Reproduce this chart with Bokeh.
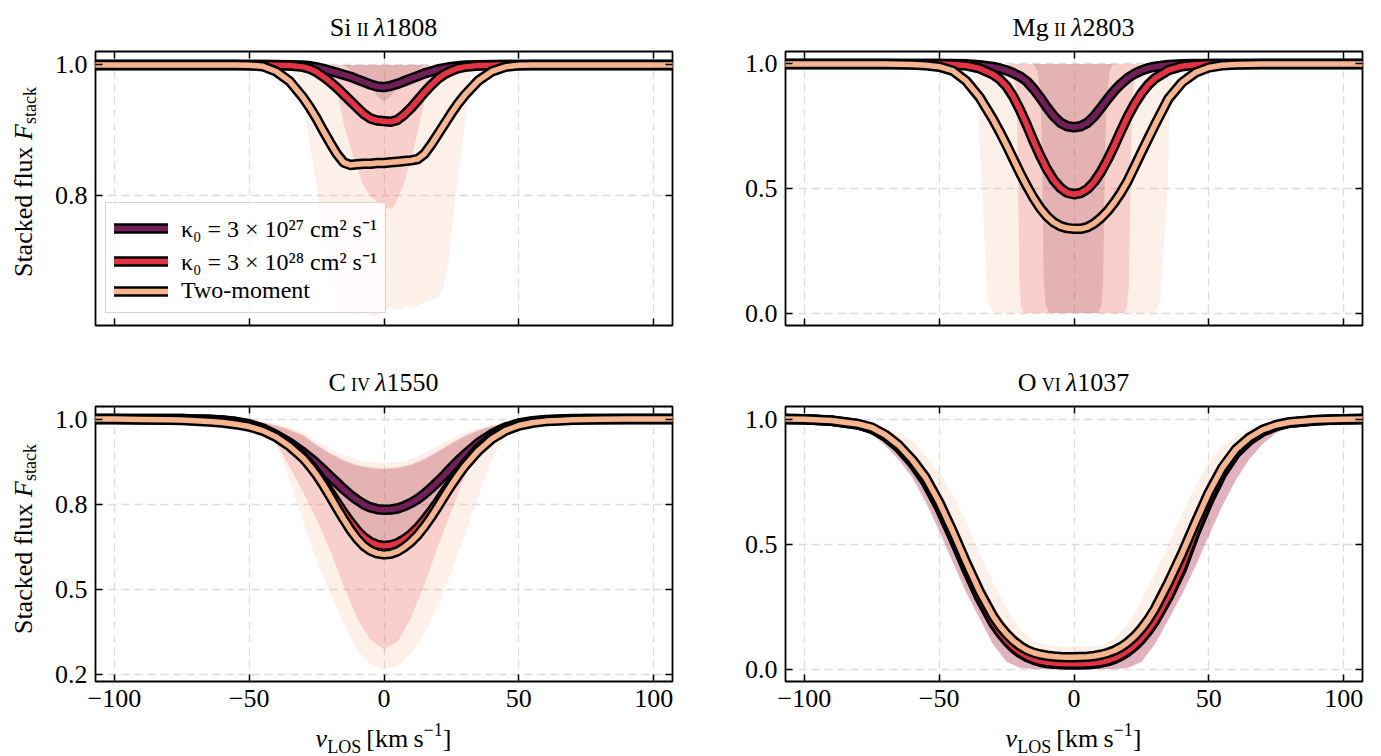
from bokeh.plotting import figure
from bokeh.models import Range1d, FixedTicker, LinearAxis, Legend, LegendItem, Div
from bokeh.layouts import column, row
from bokeh.embed import file_html
from bokeh.resources import INLINE

# ---------------- data ----------------
V = [-110, -100, -90, -80, -75, -70, -65, -60, -55, -50, -45, -40, -35,
     -30, -27.5, -25, -22.5, -20, -17.5, -15, -12.5, -10, -7.5, -5, -2.5,
     0, 2.5, 5, 7.5, 10, 12.5, 15, 17.5, 20, 22.5, 25, 27.5, 30,
     35, 40, 45, 50, 55, 60, 65, 70, 75, 80, 90, 100, 110]

SI_K27 = [1.0, 1.0, 1.0, 1.0, 1.0, 1.0, 1.0, 1.0, 1.0, 1.0, 1.0, 1.0, 0.9995,
          0.999, 0.998, 0.996, 0.994, 0.991, 0.988, 0.985, 0.982, 0.978, 0.974, 0.970, 0.967,
          0.966, 0.968, 0.971, 0.975, 0.979, 0.983, 0.987, 0.990, 0.993, 0.995, 0.997, 0.998, 0.999,
          0.9995, 1.0, 1.0, 1.0, 1.0, 1.0, 1.0, 1.0, 1.0, 1.0, 1.0, 1.0, 1.0]
SI_K28 = [1.0, 1.0, 1.0, 1.0, 1.0, 1.0, 1.0, 1.0, 1.0, 1.0, 1.0, 0.9995, 0.999,
          0.997, 0.994, 0.989, 0.982, 0.974, 0.965, 0.955, 0.945, 0.935, 0.925, 0.918, 0.915,
          0.914, 0.913, 0.916, 0.924, 0.934, 0.946, 0.958, 0.969, 0.979, 0.986, 0.991, 0.995, 0.997,
          0.999, 0.9995, 1.0, 1.0, 1.0, 1.0, 1.0, 1.0, 1.0, 1.0, 1.0, 1.0, 1.0]
SI_TM = [1.0, 1.0, 1.0, 1.0, 1.0, 1.0, 1.0, 1.0, 1.0, 0.9995, 0.998, 0.990, 0.975,
         0.950, 0.935, 0.918, 0.899, 0.881, 0.864, 0.851, 0.847, 0.848, 0.849, 0.849, 0.850,
         0.850, 0.851, 0.852, 0.853, 0.854, 0.856, 0.864, 0.878, 0.894, 0.910, 0.926, 0.941, 0.954,
         0.976, 0.990, 0.997, 0.9995, 1.0, 1.0, 1.0, 1.0, 1.0, 1.0, 1.0, 1.0, 1.0]

MG_K27 = [1.0, 1.0, 1.0, 1.0, 1.0, 1.0, 1.0, 1.0, 1.0, 1.0, 1.0, 0.999, 0.995,
          0.988, 0.982, 0.974, 0.963, 0.950, 0.930, 0.900, 0.864, 0.825, 0.790, 0.764, 0.750,
          0.746, 0.750, 0.764, 0.790, 0.824, 0.860, 0.893, 0.921, 0.944, 0.961, 0.974, 0.983, 0.989,
          0.996, 0.999, 1.0, 1.0, 1.0, 1.0, 1.0, 1.0, 1.0, 1.0, 1.0, 1.0, 1.0]
MG_K28 = [1.0, 1.0, 1.0, 1.0, 1.0, 1.0, 1.0, 1.0, 1.0, 0.9995, 0.998, 0.994, 0.982,
          0.958, 0.938, 0.910, 0.868, 0.815, 0.755, 0.690, 0.630, 0.577, 0.533, 0.502, 0.483,
          0.477, 0.482, 0.498, 0.527, 0.567, 0.617, 0.673, 0.733, 0.790, 0.840, 0.882, 0.916, 0.942,
          0.975, 0.991, 0.997, 0.9995, 1.0, 1.0, 1.0, 1.0, 1.0, 1.0, 1.0, 1.0, 1.0]
MG_TM = [1.0, 1.0, 1.0, 1.0, 1.0, 1.0, 0.999, 0.998, 0.995, 0.989, 0.973, 0.932, 0.866,
         0.777, 0.727, 0.674, 0.618, 0.562, 0.510, 0.462, 0.421, 0.388, 0.364, 0.349, 0.341,
         0.338, 0.338, 0.345, 0.360, 0.382, 0.410, 0.445, 0.485, 0.532, 0.588, 0.645, 0.700, 0.755,
         0.860, 0.925, 0.965, 0.986, 0.995, 0.998, 0.999, 1.0, 1.0, 1.0, 1.0, 1.0, 1.0]

CIV_K27 = [1.0, 1.0, 1.0, 1.0, 1.0, 0.999, 0.998, 0.996, 0.992, 0.985, 0.972, 0.953, 0.930,
           0.902, 0.886, 0.869, 0.851, 0.832, 0.813, 0.794, 0.777, 0.762, 0.749, 0.740, 0.735,
           0.733, 0.734, 0.737, 0.744, 0.753, 0.765, 0.780, 0.797, 0.816, 0.836, 0.857, 0.877, 0.896,
           0.930, 0.956, 0.975, 0.987, 0.994, 0.997, 0.999, 1.0, 1.0, 1.0, 1.0, 1.0, 1.0]
CIV_K28 = [1.0, 1.0, 1.0, 1.0, 1.0, 0.999, 0.998, 0.996, 0.991, 0.983, 0.970, 0.951, 0.925,
           0.890, 0.868, 0.843, 0.815, 0.785, 0.755, 0.725, 0.697, 0.672, 0.652, 0.638, 0.630,
           0.627, 0.629, 0.635, 0.646, 0.661, 0.680, 0.703, 0.729, 0.757, 0.786, 0.815, 0.843, 0.869,
           0.914, 0.948, 0.970, 0.984, 0.992, 0.996, 0.998, 0.999, 1.0, 1.0, 1.0, 1.0, 1.0]
CIV_TM = [1.0, 1.0, 0.999, 0.998, 0.997, 0.995, 0.993, 0.990, 0.985, 0.978, 0.966, 0.947, 0.920,
          0.885, 0.862, 0.836, 0.806, 0.773, 0.739, 0.706, 0.675, 0.648, 0.627, 0.613, 0.605,
          0.602, 0.604, 0.611, 0.623, 0.639, 0.659, 0.684, 0.712, 0.743, 0.775, 0.806, 0.835, 0.862,
          0.907, 0.942, 0.966, 0.981, 0.989, 0.994, 0.996, 0.998, 0.999, 0.9995, 1.0, 1.0, 1.0]

OVI_K27 = [1.0, 0.999, 0.993, 0.978, 0.961, 0.930, 0.885, 0.824, 0.747, 0.646, 0.527, 0.401, 0.283,
           0.184, 0.145, 0.112, 0.085, 0.064, 0.048, 0.037, 0.029, 0.024, 0.021, 0.019, 0.018,
           0.018, 0.018, 0.019, 0.021, 0.025, 0.031, 0.040, 0.053, 0.070, 0.092, 0.119, 0.152, 0.191,
           0.287, 0.399, 0.545, 0.672, 0.782, 0.862, 0.914, 0.950, 0.972, 0.985, 0.995, 0.999, 1.0]
OVI_K28 = [1.0, 0.999, 0.993, 0.978, 0.962, 0.932, 0.888, 0.828, 0.752, 0.652, 0.533, 0.407, 0.288,
           0.188, 0.148, 0.115, 0.088, 0.067, 0.051, 0.040, 0.032, 0.027, 0.024, 0.022, 0.021,
           0.021, 0.021, 0.022, 0.024, 0.028, 0.034, 0.043, 0.056, 0.073, 0.095, 0.122, 0.155, 0.194,
           0.290, 0.410, 0.555, 0.682, 0.790, 0.867, 0.918, 0.952, 0.973, 0.985, 0.995, 0.999, 1.0]
OVI_TM = [1.0, 0.999, 0.994, 0.980, 0.966, 0.937, 0.895, 0.837, 0.765, 0.667, 0.551, 0.427, 0.310,
          0.211, 0.172, 0.140, 0.113, 0.092, 0.076, 0.065, 0.058, 0.053, 0.050, 0.048, 0.047,
          0.047, 0.048, 0.049, 0.052, 0.057, 0.064, 0.074, 0.088, 0.107, 0.131, 0.161, 0.197, 0.240,
          0.345, 0.460, 0.585, 0.705, 0.805, 0.878, 0.925, 0.957, 0.976, 0.987, 0.996, 0.999, 1.0]

# percentile bands (lower edges; upper edge is the continuum for Si II / Mg II)
BAND_TOP = 1.0
SI_K27_BV = [-15, -12, -9, -6.5, -4, -2, 0, 2, 4, 6.5, 9, 12, 15]
SI_K27_LO = [1.0, 0.99, 0.98, 0.969, 0.96, 0.95, 0.944, 0.95, 0.96, 0.969, 0.98, 0.99, 1.0]
SI_K28_BV = [-19, -17.5, -16, -14.5, -12.5, -10.8, -9, -7.7, -5, -2.5, 0, 2, 3.5, 5, 7.2,
             9.7, 11.5, 12.8, 14.5, 15.9, 17.5]
SI_K28_LO = [1.0, 0.96, 0.93, 0.903, 0.875, 0.852, 0.832, 0.816, 0.80, 0.79, 0.782, 0.78, 0.782,
             0.795, 0.816, 0.852, 0.88, 0.903, 0.935, 0.964, 1.0]
SI_TM_BV = [-35, -32, -29.5, -27.5, -25.5, -23.8, -22, -20.7, -19, -17.5, -16, -13, -10, -7, -4,
            -1, 2, 5, 8, 11, 14, 17, 20, 22, 24, 25.8, 27.5, 29, 30.5, 32, 33.5]
SI_TM_LO = [1.0, 0.98, 0.93, 0.878, 0.83, 0.776, 0.735, 0.70, 0.665, 0.64, 0.625, 0.62, 0.618,
            0.622, 0.615, 0.62, 0.63, 0.625, 0.632, 0.628, 0.635, 0.64, 0.645, 0.66, 0.70, 0.776,
            0.83, 0.878, 0.93, 0.98, 1.0]

MG_K27_BV = [-15, -13.5, -12.5, -12, -11.6, -11.2, -10.5, -9, 9, 10.2, 10.8, 11.2, 11.6, 12.3, 13.2, 14.5]
MG_K27_LO = [1.0, 0.97, 0.88, 0.7, 0.4, 0.12, 0.03, 0.0, 0.0, 0.03, 0.12, 0.4, 0.7, 0.88, 0.97, 1.0]
MG_K28_BV = [-24, -22.5, -21.5, -21, -20.6, -20.2, -19.5, -18.5, 18.5, 19.5, 20.3, 20.8, 21.2, 21.8, 22.6, 24]
MG_K28_LO = [1.0, 0.97, 0.88, 0.7, 0.4, 0.1, 0.02, 0.0, 0.0, 0.02, 0.1, 0.4, 0.7, 0.88, 0.97, 1.0]
MG_TM_BV = [-38.5, -37, -36.3, -35.6, -34.7, -33.7, -32.8, -31.9, -30.5, -29, 29, 30.5, 32, 33.2,
            34.5, 35.2, 35.7, 36.5, 37.6, 39]
MG_TM_LO = [1.0, 0.97, 0.90, 0.81, 0.62, 0.406, 0.21, 0.05, 0.01, 0.0, 0.0, 0.01, 0.05, 0.25,
            0.46, 0.68, 0.865, 0.95, 0.985, 1.0]

VB = [-110, -90, -80, -75, -70, -65, -60, -55, -50, -45, -40, -35, -30, -25, -20, -15, -10, -5,
      0, 5, 10, 15, 20, 25, 30, 35, 40, 45, 50, 55, 60, 65, 70, 75, 80, 90, 110]
CIV_K27_LO = [1.0, 1.0, 1.0, 1.0, 1.0, 1.0, 1.0, 0.998, 0.993, 0.980, 0.955, 0.920, 0.875, 0.820,
              0.755, 0.695, 0.645, 0.605, 0.585, 0.603, 0.640, 0.690, 0.740, 0.795, 0.865, 0.920,
              0.960, 0.985, 0.995, 0.999, 1.0, 1.0, 1.0, 1.0, 1.0, 1.0, 1.0]
CIV_K27_HI = [1.0, 1.0, 1.0, 1.0, 1.0, 1.0, 0.999, 0.997, 0.995, 0.990, 0.980, 0.967, 0.950, 0.922,
              0.897, 0.877, 0.863, 0.855, 0.852, 0.855, 0.864, 0.881, 0.903, 0.927, 0.949, 0.966,
              0.979, 0.987, 0.993, 0.997, 0.999, 1.0, 1.0, 1.0, 1.0, 1.0, 1.0]
CIV_K28_LO = [1.0, 1.0, 1.0, 1.0, 1.0, 1.0, 0.999, 0.996, 0.988, 0.970, 0.930, 0.860, 0.785, 0.705,
              0.614, 0.510, 0.415, 0.350, 0.322, 0.345, 0.415, 0.515, 0.625, 0.730, 0.830, 0.905,
              0.955, 0.983, 0.994, 0.998, 1.0, 1.0, 1.0, 1.0, 1.0, 1.0, 1.0]
CIV_K28_HI = [1.0, 1.0, 1.0, 1.0, 1.0, 1.0, 0.999, 0.998, 0.996, 0.991, 0.982, 0.970, 0.953, 0.925,
              0.900, 0.880, 0.866, 0.858, 0.855, 0.858, 0.867, 0.884, 0.906, 0.930, 0.952, 0.968,
              0.980, 0.988, 0.994, 0.997, 0.999, 1.0, 1.0, 1.0, 1.0, 1.0, 1.0]
CIV_TM_LO = [1.0, 1.0, 1.0, 1.0, 1.0, 0.999, 0.998, 0.993, 0.982, 0.960, 0.925, 0.820, 0.700, 0.585,
             0.490, 0.400, 0.320, 0.280, 0.265, 0.275, 0.310, 0.370, 0.450, 0.550, 0.660, 0.775,
             0.880, 0.955, 0.985, 0.995, 0.999, 1.0, 1.0, 1.0, 1.0, 1.0, 1.0]
CIV_TM_HI = [1.0, 1.0, 1.0, 1.0, 1.0, 1.0, 0.999, 0.998, 0.997, 0.993, 0.986, 0.975, 0.960, 0.935,
             0.913, 0.895, 0.882, 0.873, 0.870, 0.873, 0.882, 0.900, 0.920, 0.942, 0.960, 0.972,
             0.983, 0.990, 0.995, 0.998, 0.999, 1.0, 1.0, 1.0, 1.0, 1.0, 1.0]

OVI_K27_LO = [1.0, 0.987, 0.964, 0.937, 0.893, 0.835, 0.764, 0.665, 0.550, 0.425, 0.304, 0.200, 0.098,
              0.028, 0.004, 0.0, 0.0, 0.0, 0.0, 0.0, 0.0, 0.0, 0.004, 0.028, 0.098, 0.196, 0.296,
              0.408, 0.532, 0.651, 0.754, 0.838, 0.900, 0.944, 0.969, 0.990, 1.0]
OVI_K27_HI = [1.0, 0.995, 0.981, 0.966, 0.940, 0.899, 0.843, 0.772, 0.678, 0.563, 0.437, 0.315, 0.210,
              0.136, 0.087, 0.060, 0.048, 0.043, 0.043, 0.043, 0.048, 0.060, 0.087, 0.133, 0.206,
              0.305, 0.420, 0.545, 0.661, 0.765, 0.846, 0.903, 0.946, 0.969, 0.985, 0.996, 1.0]
OVI_K28_LO = [1.0, 0.988, 0.966, 0.940, 0.897, 0.840, 0.770, 0.672, 0.557, 0.432, 0.310, 0.205, 0.100,
              0.030, 0.005, 0.0, 0.0, 0.0, 0.0, 0.0, 0.0, 0.0, 0.005, 0.030, 0.100, 0.200, 0.300,
              0.412, 0.537, 0.655, 0.758, 0.841, 0.902, 0.945, 0.970, 0.990, 1.0]
OVI_K28_HI = [1.0, 0.995, 0.982, 0.968, 0.943, 0.903, 0.848, 0.778, 0.685, 0.570, 0.443, 0.320, 0.215,
              0.140, 0.090, 0.062, 0.050, 0.045, 0.045, 0.045, 0.050, 0.062, 0.090, 0.137, 0.210,
              0.310, 0.425, 0.550, 0.665, 0.768, 0.848, 0.905, 0.947, 0.970, 0.985, 0.996, 1.0]
OVI_TM_LO = [1.0, 0.992, 0.975, 0.957, 0.925, 0.878, 0.815, 0.737, 0.632, 0.514, 0.392, 0.280, 0.185,
             0.115, 0.070, 0.045, 0.035, 0.030, 0.030, 0.030, 0.035, 0.048, 0.080, 0.130, 0.205,
             0.305, 0.420, 0.545, 0.665, 0.775, 0.860, 0.910, 0.947, 0.970, 0.984, 0.995, 1.0]
OVI_TM_HI = [1.0, 0.998, 0.990, 0.982, 0.970, 0.947, 0.910, 0.855, 0.790, 0.700, 0.586, 0.464, 0.345,
             0.240, 0.160, 0.110, 0.095, 0.090, 0.090, 0.090, 0.095, 0.120, 0.180, 0.270, 0.380,
             0.497, 0.620, 0.730, 0.830, 0.890, 0.932, 0.960, 0.978, 0.988, 0.993, 0.998, 1.0]

COLORS = ["#701f57", "#e13342", "#f6b48f"]
LEGEND_LABELS = ["κ₀ = 3 × 10²⁷ cm² s⁻¹", "κ₀ = 3 × 10²⁸ cm² s⁻¹", "Two-moment"]

TITLES = [("Si", "ii", "1808"), ("Mg", "ii", "2803"), ("C", "iv", "1550"), ("O", "vi", "1037")]
XTICKS = [-100, -50, 0, 50, 100]
XTICK_LABELS = ["−100", "−50", "0", "50", "100"]
YTICKS = [[0.8, 1.0], [0.0, 0.5, 1.0], [0.25, 0.5, 0.75, 1.0], [0.0, 0.5, 1.0]]
YTICK_LABELS = [["0.8", "1.0"], ["0.0", "0.5", "1.0"], ["0.2", "0.5", "0.8", "1.0"],
                ["0.0", "0.5", "1.0"]]
YRANGES = [(0.6015, 1.0205), (-0.05, 1.05), (0.228, 1.037), (-0.05, 1.05)]
XRANGE = (-107, 107)

LINES = [[SI_K27, SI_K28, SI_TM], [MG_K27, MG_K28, MG_TM],
         [CIV_K27, CIV_K28, CIV_TM], [OVI_K27, OVI_K28, OVI_TM]]
BANDS = [
    [(SI_K27_BV, SI_K27_LO, BAND_TOP), (SI_K28_BV, SI_K28_LO, BAND_TOP), (SI_TM_BV, SI_TM_LO, BAND_TOP)],
    [(MG_K27_BV, MG_K27_LO, BAND_TOP), (MG_K28_BV, MG_K28_LO, BAND_TOP), (MG_TM_BV, MG_TM_LO, BAND_TOP)],
    [(VB, CIV_K27_LO, CIV_K27_HI), (VB, CIV_K28_LO, CIV_K28_HI), (VB, CIV_TM_LO, CIV_TM_HI)],
    [(VB, OVI_K27_LO, OVI_K27_HI), (VB, OVI_K28_LO, OVI_K28_HI), (VB, OVI_TM_LO, OVI_TM_HI)],
]

# ---------------- styling ----------------
FONT = "Liberation Serif"
CSS_FONT = "font-family:'Liberation Serif',serif;color:#000;white-space:nowrap;"


def style_axis(ax, ticks, labels, show):
    ax.ticker = FixedTicker(ticks=ticks)
    ax.axis_line_color = None
    ax.major_tick_in = 7
    ax.major_tick_out = 0
    ax.major_tick_line_width = 1.5
    ax.major_tick_line_color = "black"
    ax.minor_tick_line_color = None
    ax.major_label_text_font = FONT
    ax.major_label_text_color = "black"
    if show:
        ax.major_label_text_font_size = "26px"
        ax.major_label_standoff = 8
        ax.major_label_overrides = {t: l for t, l in zip(ticks, labels)}
    else:
        ax.major_label_text_font_size = "0px"
        ax.major_label_standoff = 0
        ax.major_label_overrides = {t: "" for t in ticks}


# (width, height, border left, right, top, bottom)
SIZES = [(688, 325, 55, 56, 11, 40), (653, 325, 57, 19, 11, 40),
         (688, 329, 55, 56, 11, 43), (653, 329, 57, 19, 11, 43)]

figs = []
for i in range(4):
    w, h, bl, br, bt, bb = SIZES[i]
    yr = YRANGES[i]
    p = figure(width=w, height=h, x_range=Range1d(*XRANGE), y_range=Range1d(*yr),
               output_backend="svg", toolbar_location=None,
               min_border_left=bl, min_border_right=br, min_border_top=bt, min_border_bottom=bb)
    p.background_fill_color = "white"
    p.border_fill_color = "white"
    p.outline_line_color = "black"
    p.outline_line_width = 1.8
    p.outline_line_alpha = 1.0

    style_axis(p.xaxis[0], XTICKS, XTICK_LABELS, i >= 2)
    style_axis(p.yaxis[0], YTICKS[i], YTICK_LABELS[i], True)
    top = LinearAxis()
    style_axis(top, XTICKS, XTICK_LABELS, False)
    p.add_layout(top, "above")
    right = LinearAxis()
    style_axis(right, YTICKS[i], YTICK_LABELS[i], False)
    p.add_layout(right, "right")

    p.xgrid.ticker = FixedTicker(ticks=XTICKS)
    p.ygrid.ticker = FixedTicker(ticks=YTICKS[i])
    p.grid.grid_line_color = "#dcdcdc"
    p.grid.grid_line_width = 1.3
    p.grid.grid_line_dash = "8 5"

    for (bv, lo, hi), c in zip(BANDS[i], COLORS):
        p.varea(x=bv, y1=lo, y2=hi, fill_color=c, fill_alpha=0.2)

    items = []
    for f, c, lab in zip(LINES[i], COLORS, LEGEND_LABELS):
        r1 = p.line(V, f, line_color="black", line_width=10.5, line_join="round", line_cap="round")
        r2 = p.line(V, f, line_color=c, line_width=5.5, line_join="round", line_cap="round")
        items.append(LegendItem(label=lab, renderers=[r1, r2]))

    if i == 0:
        leg = Legend(items=items, location=(10, 12))
        leg.label_text_font = FONT
        leg.label_text_font_size = "24px"
        leg.label_text_color = "black"
        leg.glyph_width = 54
        leg.glyph_height = 22
        leg.label_height = 22
        leg.label_standoff = 13
        leg.padding = 8
        leg.spacing = 0
        leg.margin = 0
        leg.background_fill_color = "white"
        leg.background_fill_alpha = 0.8
        leg.border_line_color = "#cccccc"
        leg.border_line_alpha = 0.8
        leg.border_line_width = 1
        p.add_layout(leg)
    figs.append(p)


def title_div(i, width, left, height, pad_top):
    ion, stage, wave = TITLES[i]
    html = (f'<div style="{CSS_FONT}width:577px;margin-left:{left}px;padding-top:{pad_top}px;'
            f'text-align:center;font-size:26px;line-height:30px;">'
            f'{ion}&#8201;<span style="font-variant:small-caps;">{stage}</span>&#8201;'
            f'<i>λ</i>{wave}</div>')
    return Div(text=html, width=width, height=height, margin=(0, 0, 0, 0))


def xlabel_div(width, left, height):
    html = (f'<div style="{CSS_FONT}width:577px;margin-left:{left}px;padding-top:0px;'
            f'text-align:center;font-size:26px;line-height:30px;">'
            f'<i>v</i><span style="font-size:18px;position:relative;top:6px;">LOS</span>'
            f'&#8201;[km&#8201;s<span style="font-size:18px;position:relative;top:-11px;">−1</span>]'
            f'</div>')
    return Div(text=html, width=width, height=height, margin=(0, 0, 0, 0))


def ylabel_div(height, pad_bottom):
    html = (f'<div style="width:40px;height:{height}px;box-sizing:border-box;display:flex;'
            f'align-items:center;justify-content:center;padding-left:8px;padding-bottom:{pad_bottom}px;">'
            f'<span style="{CSS_FONT}writing-mode:vertical-rl;transform:rotate(180deg);'
            f'font-size:26px;line-height:30px;">Stacked flux <i>F</i>'
            f'<span style="font-size:18px;position:relative;left:-6px;">stack</span></span></div>')
    return Div(text=html, width=40, height=height, margin=(0, 0, 0, 0))


layout = column(
    row(title_div(0, 728, 95, 40, 13), title_div(1, 653, 57, 40, 13)),
    row(ylabel_div(325, 40), figs[0], figs[1]),
    row(title_div(2, 728, 95, 30, 3), title_div(3, 653, 57, 30, 3)),
    row(ylabel_div(329, 40), figs[2], figs[3]),
    row(xlabel_div(728, 95, 32), xlabel_div(653, 57, 32)),
)
open("out.html", "w").write(file_html(layout, INLINE))
